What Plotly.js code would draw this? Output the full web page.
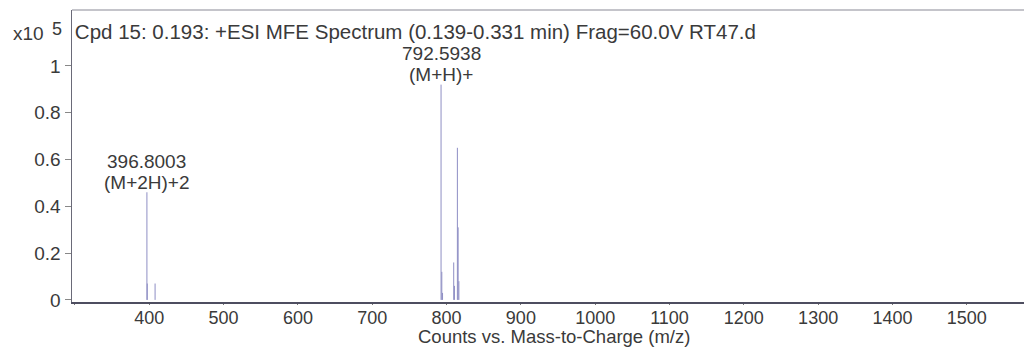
<!DOCTYPE html>
<html>
<head>
<meta charset="utf-8">
<script src="https://cdn.plot.ly/plotly-3.0.1.min.js"></script>
<style>
  html, body { margin: 0; padding: 0; background: #ffffff; }
  #chart { width: 1024px; height: 347px; }
</style>
</head>
<body>
<div id="chart"></div>
<script>
// Centroided MS peaks (m/z) and their abundances in units of x10^5 counts
const peakMz = [396.8003, 397.30, 407.80, 792.5938, 793.60, 794.60, 809.62, 810.62, 814.58, 815.58, 816.58];
const peakCounts = [0.46, 0.07, 0.07, 0.92, 0.12, 0.03, 0.16, 0.06, 0.65, 0.31, 0.08];

// Labelled peaks: m/z value and ion assignment
const labelMz = [396.8003, 792.5938];
const labelIon = ["(M+2H)+2", "(M+H)+"];

const xTickVals = [300, 400, 500, 600, 700, 800, 900, 1000, 1100, 1200, 1300, 1400, 1500];
const xTickText = ["", "400", "500", "600", "700", "800", "900", "1000", "1100", "1200", "1300", "1400", "1500"];
const yTickVals = [0, 0.2, 0.4, 0.6, 0.8, 1];
const yTickText = ["0", "0.2", "0.4", "0.6", "0.8", "1"];

const chartTitle = "Cpd 15: 0.193: +ESI MFE Spectrum (0.139-0.331 min) Frag=60.0V RT47.d";
const xTitle = "Counts vs. Mass-to-Charge (m/z)";

// Build stick spectrum: each peak is a vertical segment from baseline
const sx = [], sy = [];
peakMz.forEach((m, i) => {
  sx.push(m, m, null);
  sy.push(0, peakCounts[i], null);
});

const FONT = "Liberation Sans, Arial, sans-serif";
const TXT = "#3a3a3a";

const traces = [{
  type: "scatter",
  mode: "lines",
  x: sx,
  y: sy,
  line: { color: "#8e8ec4", width: 1 },
  hoverinfo: "skip",
  showlegend: false
}];

// Peak labels: ion assignment just above the stick, m/z value one line higher
const annotations = [];
labelMz.forEach((m, i) => {
  const h = peakCounts[peakMz.indexOf(m)];
  annotations.push({
    x: m, y: h, xref: "x", yref: "y",
    text: labelIon[i],
    showarrow: false,
    xanchor: "center", yanchor: "middle",
    yshift: 10,
    font: { family: FONT, size: 19, color: TXT }
  });
  annotations.push({
    x: m, y: h, xref: "x", yref: "y",
    text: m.toFixed(4),
    showarrow: false,
    xanchor: "center", yanchor: "middle",
    yshift: 31,
    font: { family: FONT, size: 19, color: TXT }
  });
});

// y-axis multiplier
annotations.push({
  xref: "paper", yref: "paper",
  x: -0.064, y: 0.921,
  xanchor: "left", yanchor: "middle",
  text: "x10",
  showarrow: false,
  font: { family: FONT, size: 19, color: TXT }
});
annotations.push({
  xref: "paper", yref: "paper",
  x: -0.023, y: 0.921,
  xanchor: "left", yanchor: "middle",
  yshift: 4,
  text: "5",
  showarrow: false,
  font: { family: FONT, size: 18, color: TXT }
});

// x-axis caption, set just under the tick labels
annotations.push({
  xref: "paper", yref: "paper",
  x: 0.506, y: (302 - 336) / 292,
  xanchor: "center", yanchor: "middle",
  text: xTitle,
  showarrow: false,
  font: { family: FONT, size: 18.5, color: TXT }
});

const layout = {
  width: 1024,
  height: 347,
  margin: { l: 72, r: 0, t: 10, b: 45, pad: 0 },
  paper_bgcolor: "#ffffff",
  plot_bgcolor: "#ffffff",
  font: { family: FONT, size: 19, color: TXT },
  title: {
    text: chartTitle,
    font: { family: FONT, size: 20.5, color: TXT },
    xref: "paper", x: 0.003, xanchor: "left",
    yref: "container", y: 1 - 32 / 347, yanchor: "middle"
  },
  xaxis: {
    range: [296, 1577],
    tickmode: "array",
    tickvals: xTickVals,
    ticktext: xTickText,
    ticks: "outside",
    ticklen: 1,
    tickwidth: 1,
    tickcolor: "#777",
    ticklabelstandoff: -3,
    showgrid: false,
    zeroline: false,
    showline: true,
    linecolor: "#4e4e60",
    linewidth: 2,
    tickfont: { family: FONT, size: 18, color: TXT },
    automargin: false,
    fixedrange: true
  },
  yaxis: {
    range: [-0.009, 1.239],
    tickmode: "array",
    tickvals: yTickVals,
    ticktext: yTickText,
    ticks: "outside",
    ticklen: 6,
    tickwidth: 1,
    tickcolor: "#888",
    showgrid: false,
    zeroline: false,
    showline: true,
    linecolor: "#6a6a78",
    linewidth: 1.5,
    tickfont: { family: FONT, size: 19, color: TXT },
    automargin: false,
    fixedrange: true
  },
  shapes: [{
    type: "line", xref: "paper", yref: "paper",
    x0: 0, x1: 1, y0: 1, y1: 1,
    line: { color: "#8a8a96", width: 1.2 }
  }],
  annotations: annotations
};

Plotly.newPlot("chart", traces, layout, { staticPlot: true, displayModeBar: false });
</script>
</body>
</html>
